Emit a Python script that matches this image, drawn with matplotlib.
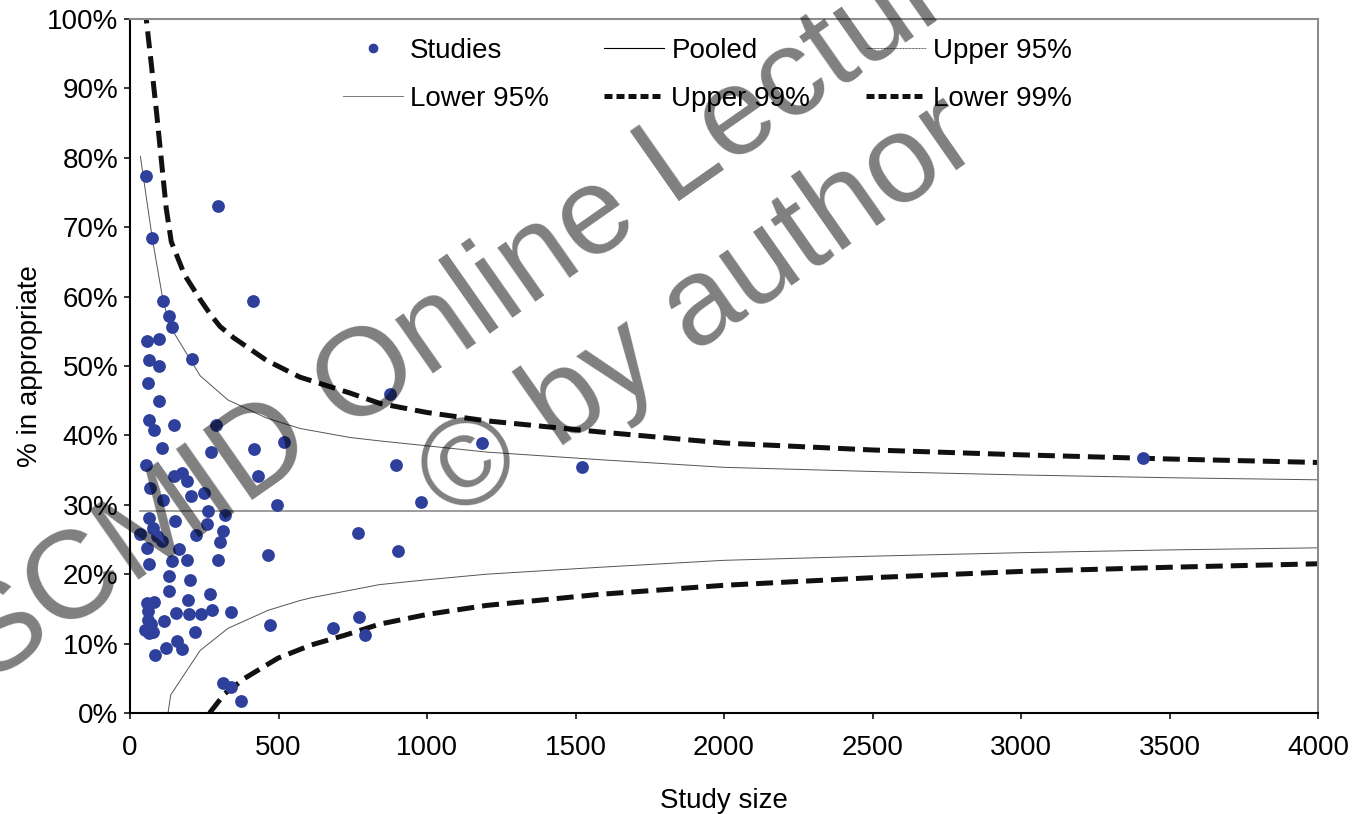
import numpy as np
import matplotlib.pyplot as plt
from matplotlib.lines import Line2D

plt.rcParams['font.family'] = ['Liberation Sans', 'DejaVu Sans']

# study sizes and % inappropriate
study_n = [54, 297, 75, 112, 413, 132, 142, 56, 99, 208, 64, 99, 62, 99, 64, 81, 148, 290,
           109, 273, 418, 519, 431, 494, 54, 149, 174, 191, 67, 205, 250, 110, 264, 321,
           65, 153, 260, 78, 314, 34, 92, 222, 109, 303, 56, 166, 466, 769, 65, 142, 191,
           295, 132, 202, 132, 269, 196, 56, 82, 62, 155, 200, 239, 276, 340, 115, 62, 70,
           51, 65, 78, 471, 219, 157, 174, 120, 84, 314, 339, 373, 682, 772, 790, 875, 894,
           901, 980, 1186, 1521, 3412]
study_pct = [77.4, 73.1, 68.4, 59.3, 59.4, 57.2, 55.6, 53.6, 53.9, 51.0, 50.9, 50.0, 47.6, 45.0,
             42.2, 40.8, 41.5, 41.5, 38.2, 37.6, 38.1, 39.0, 34.1, 29.9, 35.8, 34.1, 34.6, 33.4,
             32.4, 31.3, 31.7, 30.7, 29.1, 28.6, 28.1, 27.6, 27.3, 26.7, 26.2, 25.8, 25.5, 25.7,
             24.8, 24.6, 23.8, 23.6, 22.8, 25.9, 21.4, 21.9, 22.1, 22.0, 19.8, 19.2, 17.6, 17.1,
             16.3, 15.8, 16.0, 14.7, 14.4, 14.2, 14.3, 14.9, 14.6, 13.2, 13.4, 12.8, 12.0, 11.5,
             11.7, 12.7, 11.6, 10.4, 9.2, 9.3, 8.4, 4.3, 3.8, 1.7, 12.2, 13.9, 11.2, 45.9, 35.7,
             23.4, 30.4, 38.9, 35.5, 36.8]

pooled_n = [35, 4000]
pooled_pct = [29.1, 29.1]

up95_n = [35, 75, 111, 135, 236, 330, 460, 572, 741, 842, 1000, 1200, 1582, 2000, 2500, 3000, 3500, 4000]
up95_pct = [80.2, 68.4, 59.5, 55.7, 48.6, 45.1, 42.5, 41.0, 39.7, 39.2, 38.5, 37.6, 36.5, 35.4, 34.8, 34.3, 33.9, 33.6]

lo95_n = [128, 137, 236, 330, 465, 572, 610, 840, 1000, 1200, 1582, 2000, 2500, 3000, 3500, 4000]
lo95_pct = [0.0, 2.6, 9.0, 12.2, 14.8, 16.2, 16.6, 18.5, 19.2, 20.0, 21.0, 22.0, 22.6, 23.1, 23.5, 23.8]

up99_n = [50, 55, 72, 89, 105, 122, 139, 184, 236, 268, 303, 348, 460, 572, 741, 842, 1000, 1200,
          1582, 2000, 2500, 3000, 3500, 4000]
up99_pct = [101.8, 99.9, 93.4, 86.7, 79.9, 72.7, 67.9, 63.1, 59.6, 57.6, 55.7, 54.1, 50.8, 48.4,
            46.1, 44.6, 43.3, 42.1, 40.5, 38.9, 37.9, 37.2, 36.6, 36.1]

lo99_n = [268, 319, 386, 498, 610, 723, 840, 1000, 1200, 1582, 2000, 2500, 3000, 3500, 4000]
lo99_pct = [0.0, 2.8, 5.0, 7.9, 9.8, 11.2, 12.8, 14.2, 15.5, 17.1, 18.4, 19.5, 20.4, 21.0, 21.5]

x_ticks = [0, 500, 1000, 1500, 2000, 2500, 3000, 3500, 4000]
y_ticks = [0, 10, 20, 30, 40, 50, 60, 70, 80, 90, 100]

fig = plt.figure(figsize=(13.54, 8.14), dpi=100)
ax = fig.add_axes([130 / 1354, 1 - 713 / 814, (1318 - 130) / 1354, (713 - 19) / 814])

ax.plot(pooled_n, pooled_pct, color='#8c8c8c', lw=1.2, label='Pooled')
ax.plot(up95_n, up95_pct, color='#555555', lw=0.7, label='Upper 95%')
ax.plot(lo95_n, lo95_pct, color='#555555', lw=0.7, label='Lower 95%')
ax.plot(up99_n, up99_pct, color='#111111', lw=3.6, dashes=(3.4, 1.6), label='Upper 99%')
ax.plot(lo99_n, lo99_pct, color='#111111', lw=3.6, dashes=(3.4, 1.6), label='Lower 99%')
ax.scatter(study_n, study_pct, s=85, color='#2e409c', linewidths=0, zorder=5)

ax.set_xlim(0, 4000)
ax.set_ylim(0, 100)
ax.set_xticks(x_ticks)
ax.set_xticklabels([str(t) for t in x_ticks], fontsize=20)
ax.set_yticks(y_ticks)
ax.set_yticklabels([f'{t}%' for t in y_ticks], fontsize=20)
ax.tick_params(direction='out', length=4.5, width=1.1, pad=4, colors='black')
ax.tick_params(axis='x', pad=11)
ax.set_xlabel('Study size', fontsize=20, labelpad=20)
ax.set_ylabel('% in appropriate', fontsize=20, labelpad=3)

for side in ['left', 'bottom']:
    ax.spines[side].set_color('black')
    ax.spines[side].set_linewidth(1.5)
for side in ['top', 'right']:
    ax.spines[side].set_color('#8c8c8c')
    ax.spines[side].set_linewidth(1.5)

h = {
    'Studies': Line2D([], [], ls='none', marker='o', ms=6, color='#2e409c'),
    'Pooled': Line2D([], [], color='black', lw=0.8),
    'Upper 95%': Line2D([], [], color='#555555', lw=0.7, ls=(0, (1, 0.5))),
    'Lower 95%': Line2D([], [], color='#777777', lw=0.7),
    'Upper 99%': Line2D([], [], color='#111111', lw=3.6, dashes=(1.6, 0.8)),
    'Lower 99%': Line2D([], [], color='#111111', lw=3.6, dashes=(1.6, 0.8)),
}
order = ['Studies', 'Lower 95%', 'Pooled', 'Upper 99%', 'Upper 95%', 'Lower 99%']
ax.legend([h[k] for k in order], order, ncol=3, loc='upper left',
          bbox_to_anchor=(343 / 1354, 1 - 38 / 814), bbox_transform=fig.transFigure,
          frameon=False, borderpad=0, borderaxespad=0, fontsize=20,
          handlelength=2.16, handletextpad=0.25, columnspacing=2.0, labelspacing=0.8)

# watermark
fig.text(-80 / 1354, 1 - 733 / 814, 'ESCMID Online Lecture Library', fontsize=90,
         rotation=35, rotation_mode='anchor', ha='left', va='baseline',
         color='black', alpha=0.5, zorder=10)
fig.text(453 / 1354, 1 - 523 / 814, '\u00a9 by author', fontsize=90,
         rotation=35, rotation_mode='anchor', ha='left', va='baseline',
         color='black', alpha=0.5, zorder=10)

fig.savefig('out.png', dpi=100)
